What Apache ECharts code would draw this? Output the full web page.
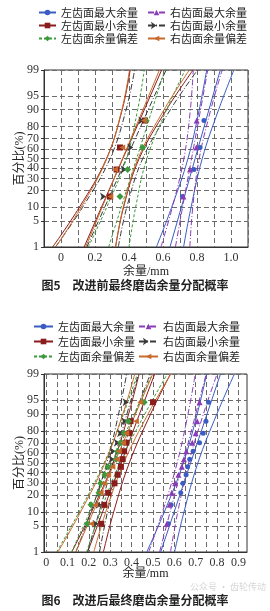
<!DOCTYPE html>
<html><head><meta charset="utf-8">
<script src="https://cdn.jsdelivr.net/npm/echarts@6/dist/echarts.min.js"></script>
<style>
html,body{margin:0;padding:0;background:#fff;width:270px;height:611px;overflow:hidden;}
#c5{position:absolute;left:0;top:0;width:270px;height:300px;}
#c6{position:absolute;left:0;top:300px;width:270px;height:311px;}
</style></head><body>
<div id="c5"></div><div id="c6"></div>
<script>
// ================= DATA =================
const seriesNames = ['左齿面最大余量','右齿面最大余量','左齿面最小余量','右齿面最小余量','左齿面余量偏差','右齿面余量偏差'];
const probTicks = [1,5,10,20,30,40,50,60,70,80,90,95,99];          // y tick labels (%)
const curveProbs = [1,10,50,90,99];                                 // % levels where fitted line / bounds were read
const fig5Ranks = [15.9,38.6,61.4,84.1];                            // plotting positions (%)
const fig6Ranks = [5.6,13.7,21.8,29.8,37.9,46.0,54.0,62.1,70.2,78.2,86.3,94.4];
const fig5XLabels = [0,0.2,0.4,0.6,0.8,1.0];
const fig6XLabels = [0,0.1,0.2,0.3,0.4,0.5,0.6,0.7,0.8,0.9];
const fig6GridX = [0,0.05,0.1,0.15,0.2,0.25,0.3,0.35,0.4,0.45,0.5,0.55,0.6,0.65,0.7,0.75,0.8,0.85,0.9];

// ---- Fig.5 (mm) ----
const f5LeftMaxPts = [0.714,0.782,0.818,0.841];
const f5LeftMaxFit = [0.641,0.708,0.789,0.870,0.937];
const f5LeftMaxLo  = [0.561,0.651,0.747,0.813,0.857];
const f5LeftMaxHi  = [0.721,0.765,0.831,0.927,1.017];

const f5RightMaxPts = [0.720,0.759,0.796,0.798];
const f5RightMaxFit = [0.673,0.715,0.768,0.821,0.863];
const f5RightMaxLo  = [0.588,0.655,0.723,0.761,0.778];
const f5RightMaxHi  = [0.758,0.775,0.813,0.881,0.948];

const f5LeftMinPts = [0.288,0.327,0.347,0.494];
const f5LeftMinFit = [0.136,0.238,0.364,0.490,0.592];
const f5LeftMinLo  = [-0.049,0.108,0.268,0.360,0.407];
const f5LeftMinHi  = [0.321,0.368,0.460,0.620,0.777];

const f5RightMinPts = [0.265,0.386,0.425,0.490];
const f5RightMinFit = [0.152,0.257,0.385,0.513,0.618];
const f5RightMinLo  = [-0.033,0.127,0.289,0.383,0.433];
const f5RightMinHi  = [0.337,0.387,0.481,0.643,0.803];

const f5LeftDevPts = [0.347,0.392,0.480,0.500];
const f5LeftDevFit = [0.280,0.354,0.445,0.536,0.610];
const f5LeftDevLo  = [0.160,0.269,0.385,0.451,0.490];
const f5LeftDevHi  = [0.400,0.439,0.505,0.621,0.730];

const f5RightDevPts = [0.290,0.318,0.360,0.488];
const f5RightDevFit = [0.145,0.242,0.362,0.482,0.579];
const f5RightDevLo  = [-0.031,0.118,0.270,0.358,0.403];
const f5RightDevHi  = [0.321,0.366,0.454,0.606,0.755];

// ---- Fig.6 (mm) ----
const f6LeftMaxPts = [0.572,0.585,0.630,0.640,0.655,0.662,0.672,0.688,0.718,0.735,0.748,0.760];
const f6LeftMaxFit = [0.536,0.599,0.676,0.753,0.816];
const f6LeftMaxLo  = [0.471,0.553,0.642,0.707,0.751];
const f6LeftMaxHi  = [0.601,0.645,0.710,0.799,0.881];

const f6RightMaxPts = [0.565,0.578,0.588,0.604,0.619,0.635,0.645,0.656,0.684,0.700,0.707,0.718];
const f6RightMaxFit = [0.531,0.580,0.640,0.700,0.749];
const f6RightMaxLo  = [0.480,0.544,0.613,0.664,0.698];
const f6RightMaxHi  = [0.582,0.616,0.667,0.736,0.800];

const f6LeftMinPts = [0.258,0.272,0.290,0.320,0.335,0.350,0.358,0.365,0.375,0.390,0.395,0.500];
const f6LeftMinFit = [0.194,0.264,0.351,0.437,0.508];
const f6LeftMinLo  = [0.120,0.212,0.313,0.386,0.435];
const f6LeftMinHi  = [0.268,0.316,0.389,0.489,0.582];

const f6RightMinPts = [0.245,0.260,0.265,0.273,0.289,0.304,0.320,0.325,0.345,0.360,0.380,0.386];
const f6RightMinFit = [0.194,0.248,0.313,0.378,0.432];
const f6RightMinLo  = [0.139,0.209,0.284,0.339,0.377];
const f6RightMinHi  = [0.250,0.287,0.342,0.417,0.488];

const f6LeftDevPts = [0.193,0.210,0.247,0.255,0.275,0.290,0.328,0.335,0.350,0.365,0.385,0.459];
const f6LeftDevFit = [0.119,0.204,0.308,0.412,0.497];
const f6LeftDevLo  = [0.049,0.154,0.271,0.362,0.427];
const f6LeftDevHi  = [0.189,0.254,0.345,0.462,0.567];

const f6RightDevPts = [0.211,0.230,0.255,0.270,0.290,0.310,0.330,0.340,0.360,0.375,0.420,0.440];
const f6RightDevFit = [0.139,0.220,0.319,0.418,0.499];
const f6RightDevLo  = [0.055,0.161,0.275,0.359,0.415];
const f6RightDevHi  = [0.223,0.279,0.363,0.477,0.583];

// ================= STYLE / HELPERS =================
const styles = {
  '左齿面最大余量': {color:'#3b5cc2', dash:'solid',   symbol:'circle',   size:5, rotate:0},
  '右齿面最大余量': {color:'#8a3cb8', dash:[6,2,1,2], symbol:'triangle', size:6, rotate:0},
  '左齿面最小余量': {color:'#8b1c1c', dash:'solid',   symbol:'rect',     size:6, rotate:0},
  '右齿面最小余量': {color:'#3a3a3a', dash:[6,2,1,2], symbol:'arrow',    size:6, rotate:-90},
  '左齿面余量偏差': {color:'#3c9a3c', dash:[3,2],     symbol:'diamond',  size:7, rotate:0},
  '右齿面余量偏差': {color:'#c96a2c', dash:'solid',   symbol:'triangle', size:6, rotate:90}
};

// inverse standard normal CDF (probability-paper axis transform)
function probit(p){
  const a=[-3.969683028665376e+01,2.209460984245205e+02,-2.759285104469687e+02,1.383577518672690e+02,-3.066479806614716e+01,2.506628277459239e+00];
  const b=[-5.447609879822406e+01,1.615858368580409e+02,-1.556989798598866e+02,6.680131188771972e+01,-1.328068155288572e+01];
  const c=[-7.784894002430293e-03,-3.223964580411365e-01,-2.400758277161838e+00,-2.549732539343734e+00,4.374664141464968e+00,2.938163982698783e+00];
  const d=[7.784695709041462e-03,3.224671290700398e-01,2.445134137142996e+00,3.754408661907416e+00];
  const pl=0.02425, ph=1-pl; let q,r;
  if(p<pl){q=Math.sqrt(-2*Math.log(p));return (((((c[0]*q+c[1])*q+c[2])*q+c[3])*q+c[4])*q+c[5])/((((d[0]*q+d[1])*q+d[2])*q+d[3])*q+1);}
  if(p<=ph){q=p-0.5;r=q*q;return (((((a[0]*r+a[1])*r+a[2])*r+a[3])*r+a[4])*r+a[5])*q/(((((b[0]*r+b[1])*r+b[2])*r+b[3])*r+b[4])*r+1);}
  q=Math.sqrt(-2*Math.log(1-p));return -(((((c[0]*q+c[1])*q+c[2])*q+c[3])*q+c[4])*q+c[5])/((((d[0]*q+d[1])*q+d[2])*q+d[3])*q+1);
}
const zTicks = probTicks.map(t => probit(t/100));
function probLabel(v){
  let best = 0;
  zTicks.forEach((z,i)=>{ if(Math.abs(z-v) < Math.abs(zTicks[best]-v)) best = i; });
  return String(probTicks[best]);
}

function makeSeries(name, ranks, pts, fit, lo, hi){
  const st = styles[name];
  const curve = arr => curveProbs.map((p,i)=>[arr[i], probit(p/100)]);
  const base = {type:'line', name, symbol:st.symbol, symbolSize:st.size, symbolRotate:st.rotate,
    showSymbol:false, lineStyle:{color:st.color, width:1, type:st.dash}, itemStyle:{color:st.color},
    silent:true, z:2, animation:false};
  return [
    Object.assign({}, base, {data:curve(fit)}),
    Object.assign({}, base, {data:curve(lo), smooth:0.4}),
    Object.assign({}, base, {data:curve(hi), smooth:0.4}),
    {type:'scatter', name, data:ranks.map((p,i)=>[pts[i], probit(p/100)]), symbol:st.symbol,
     symbolSize:st.size, symbolRotate:st.rotate, itemStyle:{color:st.color, opacity:1}, z:5, silent:true, animation:false}
  ];
}

const serifFont = '"Liberation Serif","Noto Sans CJK SC",serif';
const cjkFont = '"Noto Sans CJK SC",sans-serif';
const gridLine = {show:true, lineStyle:{color:'#6a6a6a', width:1, type:[5,3]}};

function buildOption(o){
  return {
    animation:false,
    backgroundColor:'#fff',
    title:{text:o.caption, left:'center', top:o.captionTop,
      textStyle:{fontFamily:cjkFont, fontSize:12, fontWeight:'bold', color:'#222'}},
    legend:[
      {data:[seriesNames[0],seriesNames[2],seriesNames[4]], orient:'vertical', left:o.legL, top:o.legTop,
       itemWidth:o.legW, itemHeight:7, itemGap:o.legGap, selectedMode:false, padding:0,
       textStyle:{fontFamily:cjkFont, fontSize:11, lineHeight:11, color:'#222'}},
      {data:[seriesNames[1],seriesNames[3],seriesNames[5]], orient:'vertical', left:o.legR, top:o.legTop,
       itemWidth:o.legW, itemHeight:7, itemGap:o.legGap, selectedMode:false, padding:0,
       textStyle:{fontFamily:cjkFont, fontSize:11, lineHeight:11, color:'#222'}}
    ],
    grid:{left:44, width:o.gridW, top:o.gridTop, height:o.gridH, show:true, borderColor:'#333', borderWidth:1, containLabel:false},
    xAxis:{type:'value', min:o.xMin, max:o.xMax, interval:o.xInterval,
      name:'余量/mm', nameLocation:'middle', nameGap:o.xNameGap, nameMoveOverlap:false,
      nameTextStyle:{fontFamily:serifFont, fontSize:12, color:'#222'},
      axisLine:{show:true, onZero:false, lineStyle:{color:'#333'}},
      axisTick:o.xTickValues ? {show:false, customValues:o.xTickValues} : {show:false},
      axisLabel:{customValues:o.xLabels, margin:5, fontFamily:serifFont, fontSize:12, color:'#333',
        formatter:v => (Math.abs(v)<1e-9 ? '0' : v.toFixed(1))},
      splitLine:gridLine},
    yAxis:{type:'value', min:zTicks[0], max:zTicks[zTicks.length-1],
      name:'百分比(%)', nameLocation:'middle', nameGap:18, nameRotate:90, nameMoveOverlap:false,
      nameTextStyle:{fontFamily:serifFont, fontSize:12, color:'#222'},
      axisLine:{show:true, onZero:false, lineStyle:{color:'#333'}},
      axisTick:{show:true, length:3, customValues:zTicks, lineStyle:{color:'#333'}},
      axisLabel:{customValues:zTicks, margin:5, fontFamily:serifFont, fontSize:12, color:'#333', formatter:probLabel},
      splitLine:gridLine},
    graphic:o.graphic || [],
    series:[].concat(
      makeSeries(seriesNames[0], o.ranks, ...o.s[0]),
      makeSeries(seriesNames[1], o.ranks, ...o.s[1]),
      makeSeries(seriesNames[2], o.ranks, ...o.s[2]),
      makeSeries(seriesNames[3], o.ranks, ...o.s[3]),
      makeSeries(seriesNames[4], o.ranks, ...o.s[4]),
      makeSeries(seriesNames[5], o.ranks, ...o.s[5])
    )
  };
}

const chart5 = echarts.init(document.getElementById('c5'), null, {renderer:'canvas'});
chart5.setOption(buildOption({
  caption:'图5\u3000改进前最终磨齿余量分配概率', captionTop:274,
  legL:38, legR:147, legTop:7, legW:17, legGap:2,
  gridW:204, gridTop:70, gridH:177,
  xMin:-0.1, xMax:1.1, xInterval:0.1, xLabels:fig5XLabels, xNameGap:19,
  ranks:fig5Ranks,
  s:[
    [f5LeftMaxPts,f5LeftMaxFit,f5LeftMaxLo,f5LeftMaxHi],
    [f5RightMaxPts,f5RightMaxFit,f5RightMaxLo,f5RightMaxHi],
    [f5LeftMinPts,f5LeftMinFit,f5LeftMinLo,f5LeftMinHi],
    [f5RightMinPts,f5RightMinFit,f5RightMinLo,f5RightMinHi],
    [f5LeftDevPts,f5LeftDevFit,f5LeftDevLo,f5LeftDevHi],
    [f5RightDevPts,f5RightDevFit,f5RightDevLo,f5RightDevHi]
  ]
}));

const chart6 = echarts.init(document.getElementById('c6'), null, {renderer:'canvas'});
chart6.setOption(buildOption({
  caption:'图6\u3000改进后最终磨齿余量分配概率', captionTop:289,
  legL:33, legR:138, legTop:21, legW:19, legGap:4,
  gridW:203, gridTop:74, gridH:178,
  xMin:-0.01, xMax:0.94, xInterval:null, xTickValues:fig6GridX, xLabels:fig6XLabels, xNameGap:16,
  ranks:fig6Ranks,
  graphic:[{type:'text', left:190, top:282, silent:true,
    style:{text:'公众号 · 齿轮传动', fill:'rgba(150,150,150,0.4)', font:'9px "Noto Sans CJK SC"'}}],
  s:[
    [f6LeftMaxPts,f6LeftMaxFit,f6LeftMaxLo,f6LeftMaxHi],
    [f6RightMaxPts,f6RightMaxFit,f6RightMaxLo,f6RightMaxHi],
    [f6LeftMinPts,f6LeftMinFit,f6LeftMinLo,f6LeftMinHi],
    [f6RightMinPts,f6RightMinFit,f6RightMinLo,f6RightMinHi],
    [f6LeftDevPts,f6LeftDevFit,f6LeftDevLo,f6LeftDevHi],
    [f6RightDevPts,f6RightDevFit,f6RightDevLo,f6RightDevHi]
  ]
}));
</script>
</body></html>
